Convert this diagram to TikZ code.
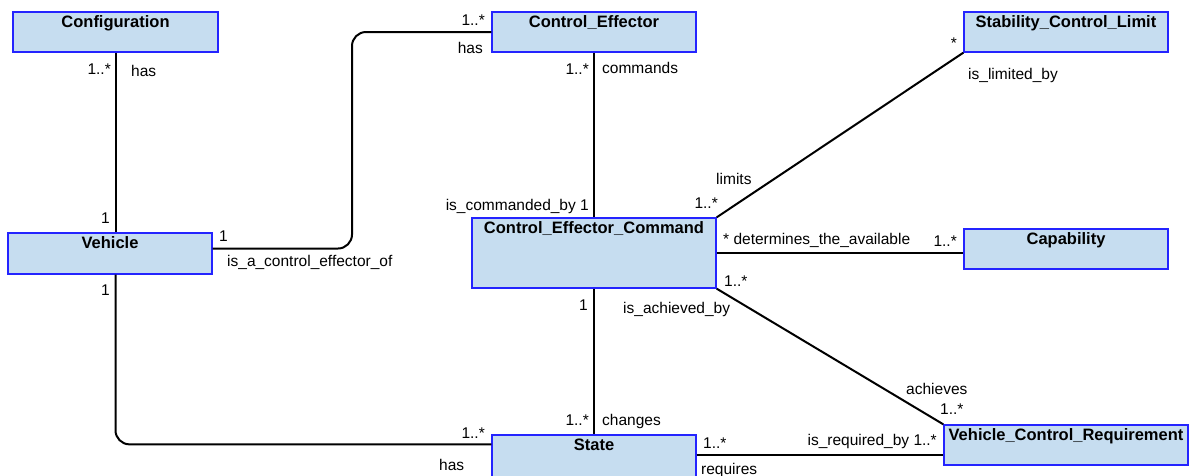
\documentclass[tikz,border=0pt]{standalone}
\usepackage{fontspec}
\setmainfont{Liberation Sans}
\definecolor{clsfill}{RGB}{198,221,240}
\definecolor{clsborder}{RGB}{36,36,255}
\begin{document}
\begin{tikzpicture}[x=1pt,y=-1pt,
  cls/.style={draw=clsborder, line width=1.3pt, fill=clsfill, minimum width=204pt,
    minimum height=40pt, inner sep=0pt},
  clsname/.style={font=\fontsize{16.5}{18}\selectfont\bfseries, anchor=base, inner sep=0pt},
  lbl/.style={font=\fontsize{15.5}{17}\selectfont, inner sep=0pt},
  assoc/.style={line width=2pt, rounded corners=14pt}]
\useasboundingbox[fill=white] (0,0) rectangle (1191,475);

% classes
\node[cls, minimum width=205pt] (conf) at (115.5,32) {};
\node[cls] (ce) at (594,32) {};
\node[cls] (scl) at (1066,32) {};
\node[cls, minimum height=41pt] (veh) at (110,253.5) {};
\node[cls, minimum width=244pt, minimum height=70pt] (cec) at (594,253) {};
\node[cls] (cap) at (1066,249) {};
\node[cls, minimum height=70pt] (state) at (594,470) {};
\node[cls, minimum width=244pt] (vcr) at (1066,445) {};

\node[clsname] (confT) at ([yshift=-16pt]conf.north) {Configuration};
\node[clsname] (ceT) at ([yshift=-16pt]ce.north) {Control\_Effector};
\node[clsname] (sclT) at ([yshift=-16pt]scl.north) {Stability\_Control\_Limit};
\node[clsname] (vehT) at ([yshift=-16pt]veh.north) {Vehicle};
\node[clsname] (cecT) at ([yshift=-16pt]cec.north) {Control\_Effector\_Command};
\node[clsname] (capT) at ([yshift=-16pt]cap.north) {Capability};
\node[clsname] (stateT) at ([yshift=-16pt]state.north) {State};
\node[clsname] (vcrT) at ([yshift=-16pt]vcr.north) {Vehicle\_Control\_Requirement};

% associations
\coordinate (ceBend) at (352,32);
\draw[assoc] (conf.south) -- (conf.south |- veh.north);
\draw[assoc] ([yshift=5pt]veh.east) -| (ceBend) -- (ce.west);
\draw[assoc] (conf.south |- veh.south) |- ([yshift=-10pt]state.north west);
\draw[assoc] (ce.south) -- (cec.north);
\draw[assoc] (cec.south) -- (state.north);
\draw[assoc] (cec.north east) -- (scl.south west);
\draw[assoc] (cec.east) -- (cec.east -| cap.west);
\draw[assoc] (cec.south east) -- (vcr.north west);
\draw[assoc] ([yshift=-21pt]state.north east) -- ([yshift=-21pt]state.north east -| vcr.west);

% roles and multiplicities
\node[lbl, anchor=base east] (m1) at (111,74) {1..*};
\node[lbl, anchor=base west] (a1) at (131,76) {has};
\node[lbl, anchor=base east] (m2) at (110,223) {1};
\node[lbl, anchor=base east] (m3) at (110,295) {1};
\node[lbl, anchor=base west] (m4) at (219,241) {1};
\node[lbl, anchor=base west] (a2) at (227,266) {is\_a\_control\_effector\_of};
\node[lbl, anchor=base east] (m5) at (485,25) {1..*};
\node[lbl, anchor=base east] (a3) at (483,53) {has};
\node[lbl, anchor=base east] (m6) at (589,74) {1..*};
\node[lbl, anchor=base west] (a4) at (602,73) {commands};
\node[lbl, anchor=base east] (m7) at (957,48) {*};
\node[lbl, anchor=base west] (a5) at (968,79) {is\_limited\_by};
\node[lbl, anchor=base west] (a6) at (716,184) {limits};
\node[lbl, anchor=base east] (m8) at (718,208) {1..*};
\node[lbl, anchor=base east] (a7) at (589,210) {is\_commanded\_by 1};
\node[lbl, anchor=base west] (a8) at (723,244) {* determines\_the\_available};
\node[lbl, anchor=base east] (m9) at (957,246) {1..*};
\node[lbl, anchor=base west] (m10) at (724,286) {1..*};
\node[lbl, anchor=base east] (m11) at (588,310) {1};
\node[lbl, anchor=base west] (a9) at (623,313) {is\_achieved\_by};
\node[lbl, anchor=base west] (a10) at (906,394) {achieves};
\node[lbl, anchor=base west] (m12) at (940,414) {1..*};
\node[lbl, anchor=base east] (a11) at (937,445) {is\_required\_by 1..*};
\node[lbl, anchor=base west] (m13) at (703,448) {1..*};
\node[lbl, anchor=base west] (a12) at (701,474) {requires};
\node[lbl, anchor=base east] (m14) at (589,425) {1..*};
\node[lbl, anchor=base west] (a13) at (602,425) {changes};
\node[lbl, anchor=base east] (m15) at (485,438) {1..*};
\node[lbl, anchor=base west] (a14) at (439,470) {has};
\end{tikzpicture}
\end{document}
